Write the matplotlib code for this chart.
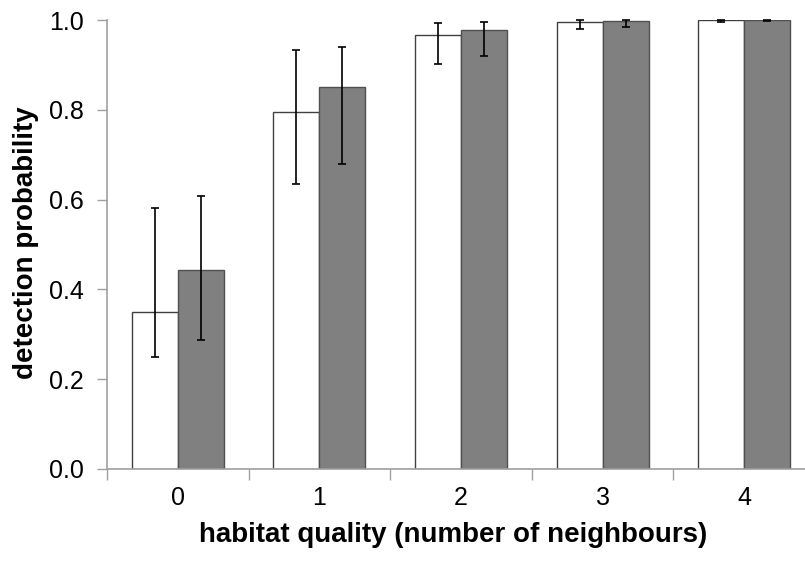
import numpy as np
import matplotlib.pyplot as plt

plt.rcParams['font.family'] = ['Liberation Sans', 'DejaVu Sans']

# habitat quality categories
categories = ['0', '1', '2', '3', '4']

# white bars (first series)
white_vals = [0.350, 0.794, 0.967, 0.996, 0.999]
white_low = [0.250, 0.635, 0.903, 0.981, 0.996]
white_high = [0.581, 0.933, 0.993, 1.000, 1.000]

# grey bars (second series)
grey_vals = [0.443, 0.851, 0.977, 0.997, 0.9995]
grey_low = [0.287, 0.679, 0.919, 0.984, 0.998]
grey_high = [0.609, 0.939, 0.996, 1.000, 1.000]

yticks = [0.0, 0.2, 0.4, 0.6, 0.8, 1.0]

W, H = 805, 561
fig = plt.figure(figsize=(W / 100, H / 100), dpi=100)
# axis spans 107..815 px horizontally (right side is cut off by the image edge)
ax = fig.add_axes([107 / W, (H - 469) / H, 708 / W, 449 / H])

x = np.arange(len(categories))
bw = 0.325

w_err = [np.array(white_vals) - np.array(white_low), np.array(white_high) - np.array(white_vals)]
g_err = [np.array(grey_vals) - np.array(grey_low), np.array(grey_high) - np.array(grey_vals)]

ax.bar(x - bw / 2, white_vals, bw, color='white', edgecolor='#404040', linewidth=1.0, zorder=2)
ax.bar(x + bw / 2, grey_vals, bw, color='#808080', edgecolor='#505050', linewidth=1.0, zorder=2)

for xs, vals, err in [(x - bw / 2, white_vals, w_err), (x + bw / 2, grey_vals, g_err)]:
    eb = ax.errorbar(xs, vals, yerr=err, fmt='none', ecolor='black', elinewidth=1.2,
                     capsize=2.6, capthick=1.2, zorder=3)
    for art in eb.lines[1] + eb.lines[2]:
        art.set_clip_on(False)

ax.set_xlim(-0.5, 4.5)
ax.set_ylim(0, 1.0)
ax.set_yticks(yticks)
ax.set_yticklabels(['%.1f' % v for v in yticks])

# category separator ticks on x axis
ax.set_xticks(np.arange(-0.5, 4.6, 1.0), minor=False)
ax.set_xticklabels([])
ax.tick_params(axis='x', direction='out', length=8, width=1.0, color='#a0a0a0')
ax.set_xticks(x, minor=True)
ax.set_xticklabels(categories, minor=True)
ax.tick_params(axis='x', which='minor', length=0, pad=12, labelsize=18)
ax.tick_params(axis='y', direction='out', length=7, width=1.0, color='#a0a0a0',
               pad=10, labelsize=18)

for s in ['top', 'right']:
    ax.spines[s].set_visible(False)
for s in ['left', 'bottom']:
    ax.spines[s].set_color('#a0a0a0')
    ax.spines[s].set_linewidth(1.2)

fig.text(453 / W, 1 - 535 / H, 'habitat quality (number of neighbours)', fontsize=20,
         fontweight='bold', ha='center', va='center')
fig.text(26 / W, 1 - 243 / H, 'detection probability', rotation=90, fontsize=20,
         fontweight='bold', ha='center', va='center')

fig.savefig('out.png', dpi=100)
